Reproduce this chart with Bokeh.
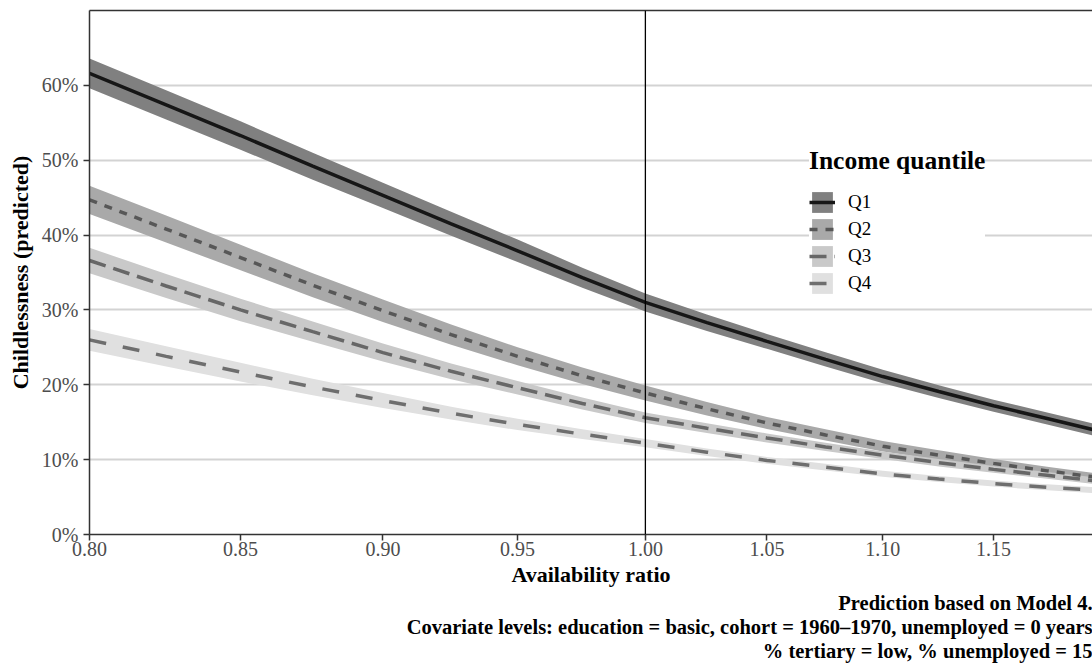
from bokeh.plotting import figure
from bokeh.models import (Range1d, FixedTicker, PrintfTickFormatter, Span, Legend,
                          LegendItem, Title, LinearAxis, ColumnDataSource)
from bokeh.embed import file_html
from bokeh.resources import INLINE

# ---- data ----
availability = [0.800, 0.825, 0.850, 0.875, 0.900, 0.925, 0.950, 0.975, 1.000,
                1.025, 1.050, 1.075, 1.100, 1.125, 1.150, 1.175, 1.200]
quantiles = ["Q1", "Q2", "Q3", "Q4"]
q1_pred = [61.6, 57.4, 53.3, 49.2, 45.3, 41.5, 37.9, 34.3, 31.0, 28.3, 25.8, 23.4, 21.1, 19.1, 17.2, 15.5, 13.8]
q1_ci = [2.0, 1.95, 1.9, 1.8, 1.7, 1.6, 1.5, 1.35, 1.2, 1.1, 1.0, 0.95, 0.9, 0.85, 0.8, 0.8, 0.8]
q2_pred = [44.7, 40.8, 37.0, 33.3, 29.9, 26.7, 23.8, 21.2, 18.9, 16.8, 14.9, 13.3, 11.8, 10.6, 9.5, 8.5, 7.6]
q2_ci = [1.9, 1.8, 1.7, 1.6, 1.5, 1.35, 1.2, 1.1, 1.0, 0.9, 0.8, 0.75, 0.7, 0.65, 0.6, 0.55, 0.5]
q3_pred = [36.6, 33.2, 30.0, 27.1, 24.3, 21.8, 19.6, 17.5, 15.6, 14.2, 12.9, 11.7, 10.6, 9.6, 8.7, 7.9, 7.1]
q3_ci = [1.7, 1.6, 1.5, 1.35, 1.2, 1.05, 0.9, 0.8, 0.7, 0.65, 0.6, 0.55, 0.5, 0.5, 0.45, 0.45, 0.45]
q4_pred = [26.0, 23.8, 21.7, 19.7, 17.9, 16.2, 14.7, 13.4, 12.2, 11.0, 9.9, 9.0, 8.1, 7.4, 6.8, 6.3, 5.9]
q4_ci = [1.45, 1.35, 1.25, 1.1, 1.0, 0.85, 0.75, 0.65, 0.55, 0.5, 0.45, 0.45, 0.4, 0.4, 0.4, 0.4, 0.4]

x_ticks = [0.80, 0.85, 0.90, 0.95, 1.00, 1.05, 1.10, 1.15, 1.20]
y_ticks = [0, 10, 20, 30, 40, 50, 60]
reference_ratio = 1.0

caption_lines = [
    "Prediction based on Model 4.",
    "Covariate levels: education = basic, cohort = 1960\u20131970, unemployed = 0 years",
    "% tertiary = low, % unemployed = 15",
]

# ---- styles ----
band_colors = ["#808080", "#a9a9a9", "#c9c9c9", "#e0e0e0"]
line_colors = ["#161616", "#575757", "#676767", "#6e6e6e"]
line_dashes = ["solid", "8 8", "17 8", "17 17"]
FONT = "Liberation Serif"

p = figure(width=1092, height=664, x_axis_type="log",
           x_range=Range1d(0.8, 1.1966), y_range=Range1d(0, 70),
           output_backend="svg", toolbar_location=None,
           min_border_left=89, min_border_right=0, min_border_top=10, min_border_bottom=130)
p.outline_line_color = None
p.background_fill_color = "white"
p.border_fill_color = "white"

preds = [q1_pred, q2_pred, q3_pred, q4_pred]
cis = [q1_ci, q2_ci, q3_ci, q4_ci]

bands = []
for i, (pr, ci) in enumerate(zip(preds, cis)):
    src = ColumnDataSource(dict(x=availability,
                                lo=[a - b for a, b in zip(pr, ci)],
                                hi=[a + b for a, b in zip(pr, ci)]))
    bands.append(p.varea(x="x", y1="lo", y2="hi", source=src,
                         fill_color=band_colors[i], fill_alpha=1.0))
lines = []
for i, pr in enumerate(preds):
    src = ColumnDataSource(dict(x=availability, y=pr))
    lines.append(p.line(x="x", y="y", source=src, line_color=line_colors[i],
                        line_width=3.5, line_dash=line_dashes[i], line_cap="butt"))

p.add_layout(Span(location=reference_ratio, dimension="height",
                  line_color="black", line_width=1.3))

# grid
p.xgrid.visible = False
p.ygrid.grid_line_color = "#d3d3d3"
p.ygrid.grid_line_width = 2

# axes
for ax in (p.xaxis[0], p.yaxis[0]):
    ax.axis_line_color = "#333333"
    ax.axis_line_width = 1.5
    ax.major_tick_line_color = "#333333"
    ax.major_tick_line_width = 1.5
    ax.major_tick_out = 6
    ax.major_tick_in = 0
    ax.minor_tick_line_color = None
    ax.major_label_text_font = FONT
    ax.major_label_text_font_size = "20px"
    ax.major_label_text_color = "#4d4d4d"
    ax.axis_label_text_font = FONT
    ax.axis_label_text_font_style = "bold"
    ax.axis_label_text_font_size = "22px"
    ax.axis_label_text_color = "black"

p.xaxis.ticker = FixedTicker(ticks=x_ticks)
p.xaxis.formatter = PrintfTickFormatter(format="%.2f")
p.xaxis.axis_label = "Availability ratio"
p.xaxis.major_label_standoff = 1
p.xaxis.axis_label_standoff = 3

p.yaxis.ticker = FixedTicker(ticks=y_ticks)
p.yaxis.formatter = PrintfTickFormatter(format="%d%%")
p.yaxis.axis_label = "Childlessness (predicted)"
p.yaxis.major_label_standoff = 5
p.yaxis.axis_label_standoff = 6

top = LinearAxis(ticker=FixedTicker(ticks=[]), axis_line_color="#333333", axis_line_width=1.5,
                 major_tick_line_color=None, minor_tick_line_color=None,
                 major_label_text_font_size="0px")
p.add_layout(top, "above")

# legend
items = [LegendItem(label=q, renderers=[bands[i], lines[i]]) for i, q in enumerate(quantiles)]
legend = Legend(items=items, title="Income quantile", location=(720, 238),
                title_text_font=FONT, title_text_font_style="bold", title_text_font_size="25.5px",
                title_text_color="black", title_standoff=13,
                label_text_font=FONT, label_text_font_size="19px", label_text_color="black",
                glyph_width=26, glyph_height=26, label_height=26, spacing=1,
                label_standoff=13, padding=5, margin=0,
                border_line_color=None, background_fill_color="white", background_fill_alpha=1.0)
p.add_layout(legend)

# caption
for line in caption_lines:
    p.add_layout(Title(text=line, align="right", text_font=FONT, text_font_style="bold",
                       text_font_size="20.5px", text_color="black", standoff=0, offset=0), "below")

open("out.html", "w").write(file_html(p, INLINE))
